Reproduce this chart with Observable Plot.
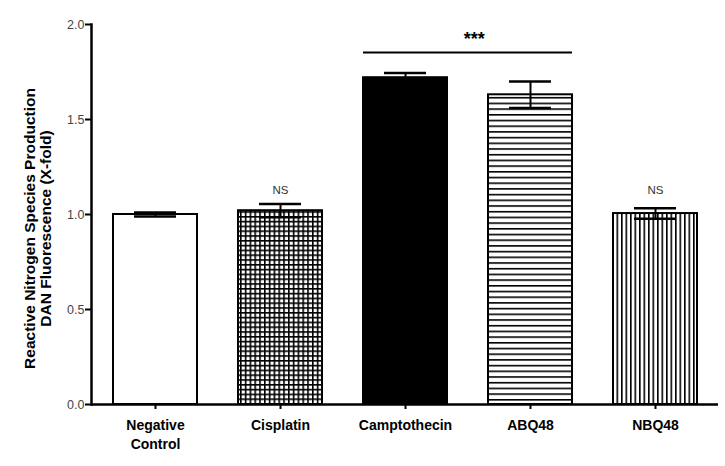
<!DOCTYPE html>
<html>
<head>
<meta charset="utf-8">
<script src="https://cdn.jsdelivr.net/npm/d3@7"></script>
<script src="https://cdn.jsdelivr.net/npm/@observablehq/plot@0.6"></script>
<style>
  html, body { margin: 0; padding: 0; background: #fff; }
  #chart svg { font-family: "Liberation Sans", Arial, sans-serif; }
</style>
</head>
<body>
<div id="chart"></div>
<script>
// ---- data ----
const categories = ["Negative Control", "Cisplatin", "Camptothecin", "ABQ48", "NBQ48"];
const tickLabels = ["Negative\nControl", "Cisplatin", "Camptothecin", "ABQ48", "NBQ48"];
const means = [1.0, 1.02, 1.72, 1.63, 1.005];
const errors = [0.01, 0.035, 0.025, 0.07, 0.028];
const nsLabels = ["", "NS", "", "", "NS"];
const yTicks = [0, 0.5, 1.0, 1.5, 2.0];
const yTitle = "Reactive Nitrogen Species Production\nDAN Fluorescence (X-fold)";
const sigGroup = ["Camptothecin", "ABQ48"];
const sigValue = 1.853;
const sigLabel = "***";
const nsValue = 1.125;
const sigLabelValue = 1.925;

// ---- styles (fill per bar) ----
const fills = ["white", "url(#pat-grid)", "black", "url(#pat-h)", "url(#pat-v)"];

const data = categories.map((c, i) => ({cat: c, mean: means[i], err: errors[i], ns: nsLabels[i], fill: fills[i]}));

const W = 725, H = 466;
const mL = 91, mR = 7, mT = 24, mB = 62;
const step = (W - mL - mR) / categories.length;

const plot = Plot.plot({
  width: W,
  height: H,
  marginLeft: mL,
  marginRight: mR,
  marginTop: mT,
  marginBottom: mB,
  style: {fontFamily: "Liberation Sans, Arial, sans-serif", background: "white"},
  x: {domain: categories, paddingInner: 0.33, paddingOuter: 0.165, label: null},
  y: {domain: [0, 2], label: null},
  marks: [
    Plot.barY(data, {x: "cat", y: "mean", fill: "fill", stroke: "black", strokeWidth: 2}),
    // error stems
    Plot.ruleX(data, {x: "cat", y1: d => d.mean - d.err, y2: d => d.mean + d.err, stroke: "black", strokeWidth: 2}),
    // caps
    Plot.tickY(data, {x: "cat", y: d => d.mean + d.err, insetLeft: 21, insetRight: 21, stroke: "black", strokeWidth: 2.5}),
    Plot.tickY(data, {x: "cat", y: d => d.mean - d.err, insetLeft: 21, insetRight: 21, stroke: "black", strokeWidth: 2.5}),
    // NS labels
    Plot.text(data.filter(d => d.ns), {x: "cat", y: () => nsValue, text: "ns", fontSize: 11.5, fill: "#333"}),
    // significance bracket
    Plot.ruleY([sigValue], {y: d => d, x1: () => sigGroup[0], x2: () => sigGroup[1], stroke: "black", strokeWidth: 2}),
    Plot.text([sigLabel], {x: () => sigGroup[0], y: () => sigLabelValue, text: d => d, dx: step / 2 + 6, fontSize: 18, fontWeight: "bold", fill: "black"}),
    // axes
    Plot.axisY({ticks: yTicks, tickFormat: d3.format(".1f"), tickSize: 6, tickPadding: 1, fontSize: 12.5, color: "#444", stroke: "black", strokeWidth: 2, label: null}),
    Plot.axisX({tickSize: 5, tickPadding: 8, fontSize: 14, fontWeight: "bold", color: "black", strokeWidth: 2, label: null, lineHeight: 1.3,
      tickFormat: d => tickLabels[categories.indexOf(d)]}),
    Plot.ruleY([0], {stroke: "black", strokeWidth: 2.5}),
    Plot.frame({anchor: "left", stroke: "black", strokeWidth: 2.5}),
    // y title
    Plot.text([yTitle], {frameAnchor: "left", rotate: -90, textAnchor: "middle", dx: -54, dy: 14, fontSize: 15.5, fontWeight: "bold", fill: "black", lineHeight: 1.05})
  ]
});

// pattern definitions
const svg = d3.select(plot);
const defs = svg.insert("defs", ":first-child");
const g = defs.append("pattern").attr("id", "pat-grid").attr("patternUnits", "userSpaceOnUse").attr("width", 4.8).attr("height", 4.8);
g.append("rect").attr("width", 4.8).attr("height", 4.8).attr("fill", "white");
g.append("rect").attr("x", 0).attr("y", 0).attr("width", 4.8).attr("height", 1.6).attr("fill", "black");
g.append("rect").attr("x", 0).attr("y", 0).attr("width", 1.6).attr("height", 4.8).attr("fill", "black");
const h = defs.append("pattern").attr("id", "pat-h").attr("patternUnits", "userSpaceOnUse").attr("width", 10).attr("height", 5.7);
h.append("rect").attr("width", 10).attr("height", 5.7).attr("fill", "white");
h.append("rect").attr("y", 0).attr("width", 10).attr("height", 1.6).attr("fill", "black");
const v = defs.append("pattern").attr("id", "pat-v").attr("patternUnits", "userSpaceOnUse").attr("width", 4.5).attr("height", 10);
v.append("rect").attr("width", 4.5).attr("height", 10).attr("fill", "white");
v.append("rect").attr("x", 0).attr("width", 1.6).attr("height", 10).attr("fill", "black");

document.getElementById("chart").appendChild(plot);
</script>
</body>
</html>
